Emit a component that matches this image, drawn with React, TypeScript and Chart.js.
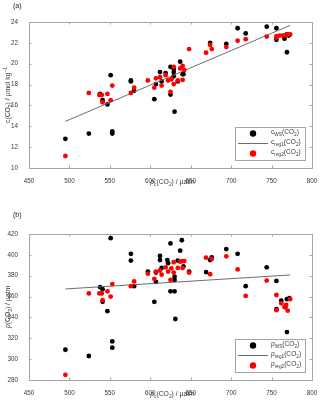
import React, { useEffect, useRef } from "react";
import { Chart, registerables } from "chart.js";
Chart.register(...registerables);

// ---------- data ----------
const xTickValues = [450, 500, 550, 600, 650, 700, 750, 800];

// panel (a)
const aTickValues = [10, 12, 14, 16, 18, 20, 22, 24];
const aWS_x = [495, 524, 538, 541, 547, 551, 553, 553, 576, 576, 580, 605, 607, 612, 614, 619, 625, 625, 630, 629, 629, 629, 634, 637, 640, 641, 674, 694, 708, 718, 744, 756, 756, 766, 769, 769, 771];
const aWS_y = [12.8, 13.3, 17.1, 16.5, 16.1, 18.9, 13.5, 13.3, 18.4, 18.3, 17.4, 16.6, 18.05, 19.2, 18.3, 19.1, 17.05, 19.7, 15.4, 18.8, 19.2, 19.5, 18.3, 20.2, 19.0, 19.0, 22.0, 21.9, 23.4, 22.9, 23.55, 23.4, 22.3, 22.4, 21.1, 22.8, 22.7];
const aReg2_x = [495, 524, 537, 540, 541, 547, 551, 553, 576, 580, 597, 605, 607, 612, 614, 619, 622, 625, 626, 629, 629, 634, 637, 640, 640, 642, 648, 669, 674, 676, 694, 708, 718, 744, 756, 756, 760, 764, 767, 770, 773];
const aReg2_y = [11.15, 17.2, 17.0, 17.0, 16.3, 17.1, 16.5, 17.9, 17.2, 17.7, 18.4, 17.7, 18.6, 18.7, 17.9, 18.9, 18.4, 17.3, 18.5, 18.05, 19.7, 18.4, 19.55, 18.45, 19.8, 19.4, 21.4, 21.06, 21.8, 21.4, 21.6, 22.2, 22.35, 22.6, 22.65, 22.5, 22.7, 22.7, 22.75, 22.8, 22.8];
const aReg1_x = [495, 773];
const aReg1_y = [14.47, 23.68];

// panel (b)
const bTickValues = [280, 300, 320, 340, 360, 380, 400, 420];
const bWS_x = [495, 524, 538, 541, 541, 547, 551, 553, 553, 576, 576, 580, 597, 605, 607, 607, 612, 612, 614, 621, 622, 625, 625, 630, 630, 630, 631, 634, 637, 639, 641, 648, 669, 674, 676, 694, 708, 718, 744, 756, 756, 762, 767, 769, 769, 772];
const bWS_y = [309, 303, 369, 367, 355, 346, 416, 317, 311, 401, 394.5, 370, 384, 355, 374, 383, 399, 395, 387.5, 395, 392, 411, 365, 365, 379, 376, 338.5, 394.5, 404, 414, 389, 384, 383.5, 395, 397.5, 405.5, 401, 370, 388, 375, 348, 356, 350, 326, 357.5, 358.5];
const bReg2_x = [495, 524, 537, 540, 541, 547, 551, 553, 576, 580, 597, 605, 607, 612, 614, 619, 622, 625, 626, 629, 629, 634, 637, 640, 640, 642, 648, 669, 674, 676, 694, 708, 718, 744, 756, 756, 762, 766, 768, 770, 773];
const bReg2_y = [285, 363, 363, 363, 356.5, 365, 360, 372, 370, 374.5, 382, 377, 384, 385, 381, 388, 384, 376, 387, 393, 383, 387.5, 393.5, 387.5, 394, 394, 383, 397.3, 381.5, 396, 398.6, 386, 360.6, 375.3, 361.5, 347, 353.5, 350, 352, 346.5, 357.5];
const bReg1_x = [495, 773];
const bReg1_y = [367.3, 380.7];

// ---------- text helpers ----------
type Seg = { t: string; s?: "sub" | "sup"; i?: boolean };
const FONT = "'Liberation Sans', Arial, Helvetica, sans-serif";

function segFont(seg: Seg, size: number) {
  const sz = seg.s ? size * 0.72 : size;
  return `${seg.i ? "italic " : ""}${sz}px ${FONT}`;
}
function richWidth(ctx: CanvasRenderingContext2D, segs: Seg[], size: number) {
  let w = 0;
  for (const s of segs) {
    ctx.font = segFont(s, size);
    w += ctx.measureText(s.t).width;
  }
  return w;
}
function drawRich(ctx: CanvasRenderingContext2D, x: number, y: number, segs: Seg[], size: number, align: "left" | "center") {
  const w = richWidth(ctx, segs, size);
  let cx = align === "center" ? x - w / 2 : x;
  ctx.textBaseline = "middle";
  ctx.textAlign = "left";
  for (const s of segs) {
    ctx.font = segFont(s, size);
    const dy = s.s === "sub" ? size * 0.35 : s.s === "sup" ? -size * 0.4 : 0;
    ctx.fillText(s.t, cx, y + dy);
    cx += ctx.measureText(s.t).width;
  }
}

const pts = (xs: number[], ys: number[]) => xs.map((x, i) => ({ x, y: ys[i] }));

type PanelCfg = {
  tag: string;
  height: number;
  padTop: number;
  xAxisH: number;
  yMin: number;
  yMax: number;
  yTicks: number[];
  ws: { x: number; y: number }[];
  reg1: { x: number; y: number }[];
  reg2: { x: number; y: number }[];
  yTitle: Seg[];
  xTitle: Seg[];
  legend: Seg[][];
  tagY: number;
};

const xTitleSegs: Seg[] = [
  { t: "p", i: true },
  { t: "c", s: "sub" },
  { t: "(CO" },
  { t: "2", s: "sub" },
  { t: ") / µatm" },
];

function legendSegs(sym: string, italic: boolean, sub: string): Seg[] {
  return [{ t: sym, i: italic }, { t: sub, s: "sub" }, { t: "(CO" }, { t: "2", s: "sub" }, { t: ")" }];
}

const panelA: PanelCfg = {
  tag: "(a)",
  height: 200,
  padTop: 22,
  xAxisH: 32,
  yMin: 10,
  yMax: 24,
  yTicks: aTickValues,
  ws: pts(aWS_x, aWS_y),
  reg1: pts(aReg1_x, aReg1_y),
  reg2: pts(aReg2_x, aReg2_y),
  yTitle: [{ t: "c(CO" }, { t: "2", s: "sub" }, { t: ") / µmol kg" }, { t: "−1", s: "sup" }],
  xTitle: xTitleSegs,
  legend: [legendSegs("c", false, "WS"), legendSegs("c", false, "reg1"), legendSegs("c", false, "reg2")],
  tagY: 6,
};

const panelB: PanelCfg = {
  tag: "(b)",
  height: 205,
  padTop: 34,
  xAxisH: 25,
  yMin: 280,
  yMax: 420,
  yTicks: bTickValues,
  ws: pts(bWS_x, bWS_y),
  reg1: pts(bReg1_x, bReg1_y),
  reg2: pts(bReg2_x, bReg2_y),
  yTitle: [{ t: "p", i: true }, { t: "(CO" }, { t: "2", s: "sub" }, { t: ") / µatm" }],
  xTitle: xTitleSegs,
  legend: [legendSegs("p", true, "WS"), legendSegs("p", true, "reg1"), legendSegs("p", true, "reg2")],
  tagY: 15,
};

const FRAME = "#a6a6a6";
const TEXT = "#3a3a3a";
const LINE = "#6e6e6e";
const TICK_FS = 6.3;
const TITLE_FS = 6.8;

function Panel({ cfg }: { cfg: PanelCfg }) {
  const ref = useRef<HTMLCanvasElement>(null);
  useEffect(() => {
    if (!ref.current) return;
    const decor = {
      id: "decor",
      beforeDatasetsDraw(chart: any) {
        const ctx = chart.ctx as CanvasRenderingContext2D;
        const a = chart.chartArea;
        const xs = chart.scales.x;
        const ys = chart.scales.y;
        ctx.save();
        ctx.strokeStyle = FRAME;
        ctx.lineWidth = 1;
        ctx.strokeRect(Math.round(a.left) + 0.5, Math.round(a.top) + 0.5, Math.round(a.right - a.left), Math.round(a.bottom - a.top));
        const tl = 2.5;
        ctx.beginPath();
        for (const v of xTickValues) {
          const px = Math.round(xs.getPixelForValue(v)) + 0.5;
          ctx.moveTo(px, a.bottom);
          ctx.lineTo(px, a.bottom - tl);
          ctx.moveTo(px, a.top);
          ctx.lineTo(px, a.top + tl);
        }
        for (const v of cfg.yTicks) {
          const py = Math.round(ys.getPixelForValue(v)) + 0.5;
          ctx.moveTo(a.left, py);
          ctx.lineTo(a.left + tl, py);
          ctx.moveTo(a.right, py);
          ctx.lineTo(a.right - tl, py);
        }
        ctx.stroke();
        ctx.restore();
      },
      afterDraw(chart: any) {
        const ctx = chart.ctx as CanvasRenderingContext2D;
        const a = chart.chartArea;
        ctx.save();
        ctx.fillStyle = "#222";
        // panel tag
        ctx.font = `7px ${FONT}`;
        ctx.textAlign = "left";
        ctx.textBaseline = "middle";
        ctx.fillText(cfg.tag, 13, cfg.tagY);
        // x title
        ctx.fillStyle = TEXT;
        drawRich(ctx, (a.left + a.right) / 2 + 2, a.bottom + 14.5, cfg.xTitle, TITLE_FS, "center");
        // y title
        ctx.save();
        ctx.translate(8, (a.top + a.bottom) / 2);
        ctx.rotate(-Math.PI / 2);
        drawRich(ctx, 0, 0, cfg.yTitle, TITLE_FS, "center");
        ctx.restore();
        // legend
        const bx = a.right - 77;
        const by = a.bottom - 41;
        const bw = 70;
        const bh = 33;
        ctx.fillStyle = "#fff";
        ctx.fillRect(bx, by, bw, bh);
        ctx.strokeStyle = FRAME;
        ctx.lineWidth = 1;
        ctx.strokeRect(Math.round(bx) + 0.5, Math.round(by) + 0.5, bw, bh);
        const rows = [by + 6.5, by + 16.5, by + 26.5];
        ctx.fillStyle = "#000";
        ctx.beginPath();
        ctx.arc(bx + 18, rows[0], 3.2, 0, Math.PI * 2);
        ctx.fill();
        ctx.strokeStyle = LINE;
        ctx.beginPath();
        ctx.moveTo(bx + 3, rows[1]);
        ctx.lineTo(bx + 33, rows[1]);
        ctx.stroke();
        ctx.fillStyle = "#ff0000";
        ctx.beginPath();
        ctx.arc(bx + 18, rows[2], 3.2, 0, Math.PI * 2);
        ctx.fill();
        ctx.fillStyle = TEXT;
        cfg.legend.forEach((segs, i) => drawRich(ctx, bx + 36, rows[i] - 1, segs, 6.6, "left"));
        ctx.restore();
      },
    };
    const chart = new Chart(ref.current, {
      type: "scatter",
      data: {
        datasets: [
          {
            label: "reg2",
            data: cfg.reg2,
            backgroundColor: "#ff0000",
            borderColor: "#ff0000",
            pointRadius: 2.4,
            borderWidth: 0,
            order: 0,
          },
          {
            label: "reg1",
            type: "line",
            data: cfg.reg1,
            borderColor: LINE,
            borderWidth: 1,
            pointRadius: 0,
            fill: false,
            order: 1,
          } as any,
          {
            label: "WS",
            data: cfg.ws,
            backgroundColor: "#000",
            borderColor: "#000",
            pointRadius: 2.4,
            borderWidth: 0,
            order: 2,
          },
        ],
      },
      options: {
        responsive: false,
        animation: false,
        events: [],
        layout: { padding: { top: cfg.padTop, right: 8, left: 0, bottom: 0 } },
        plugins: { legend: { display: false }, tooltip: { enabled: false } },
        scales: {
          x: {
            type: "linear",
            min: 450,
            max: 800,
            afterBuildTicks: (s: any) => {
              s.ticks = xTickValues.map((v) => ({ value: v }));
            },
            afterFit: (s: any) => {
              s.height = cfg.xAxisH;
            },
            grid: { display: false },
            border: { display: false },
            ticks: { font: { size: TICK_FS, family: FONT }, color: TEXT, padding: 1.5, maxRotation: 0 },
          },
          y: {
            type: "linear",
            min: cfg.yMin,
            max: cfg.yMax,
            afterBuildTicks: (s: any) => {
              s.ticks = cfg.yTicks.map((v) => ({ value: v }));
            },
            afterFit: (s: any) => {
              s.width = 29;
            },
            grid: { display: false },
            border: { display: false },
            ticks: { font: { size: TICK_FS, family: FONT }, color: TEXT, padding: 3 },
          },
        },
      },
      plugins: [decor],
    });
    return () => chart.destroy();
  }, [cfg]);
  return <canvas ref={ref} width={320} height={cfg.height} style={{ display: "block" }} />;
}

export default function App() {
  useEffect(() => {
    document.body.style.margin = "0";
    document.body.style.background = "#fff";
  }, []);
  return (
    <div style={{ width: 320, height: 405, background: "#fff" }}>
      <Panel cfg={panelA} />
      <Panel cfg={panelB} />
    </div>
  );
}
